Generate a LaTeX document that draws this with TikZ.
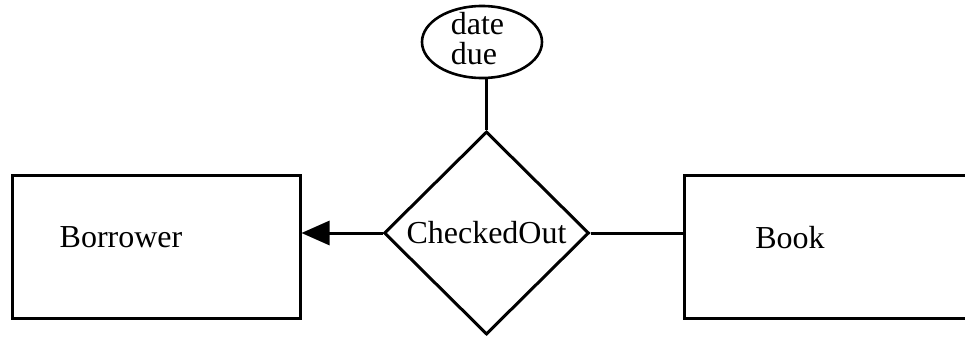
\documentclass[tikz,border=0pt]{standalone}
\usepackage{fontspec}
\setmainfont{Liberation Serif}
\usetikzlibrary{shapes.geometric,arrows.meta}
\begin{document}
\begin{tikzpicture}[x=0.5pt,y=-0.5pt,
  every node/.style={font=\fontsize{16pt}{15pt}\selectfont},
  entity/.style={draw,line width=1.5pt,rectangle,inner sep=0pt,minimum height=71.5pt},
  relation/.style={draw,line width=1.5pt,diamond,inner sep=0pt,minimum width=102.5pt,minimum height=101.5pt},
  attrib/.style={draw,line width=1.3pt,ellipse,inner sep=0pt,minimum width=60pt,minimum height=36pt},
  conn/.style={line width=1.5pt}]
\useasboundingbox (0,0) rectangle (965,337);
\clip (0,0) rectangle (965,337);
\node[entity,minimum width=144pt,label={[xshift=-17.5pt,yshift=4.5pt]center:Borrower}] (borrower) at (156,246.5) {};
\node[entity,minimum width=150.5pt,label={[xshift=-22.25pt,yshift=4.5pt]center:Book}] (book) at (834.5,246.5) {};
\node[relation] (checked) at (486.5,233) {CheckedOut};
\node[attrib,label={[align=left,xshift=-2.25pt,yshift=1.5pt]center:date\\due}] (datedue) at (482,42) {};
\draw[conn,-{Triangle[length=14pt,width=12pt]}] (checked.west) -- (checked.west -| borrower.east);
\draw[conn] (checked.east) -- (checked.east -| book.west);
\draw[conn] (checked.north) -- (checked.north |- datedue.south);
\end{tikzpicture}
\end{document}
